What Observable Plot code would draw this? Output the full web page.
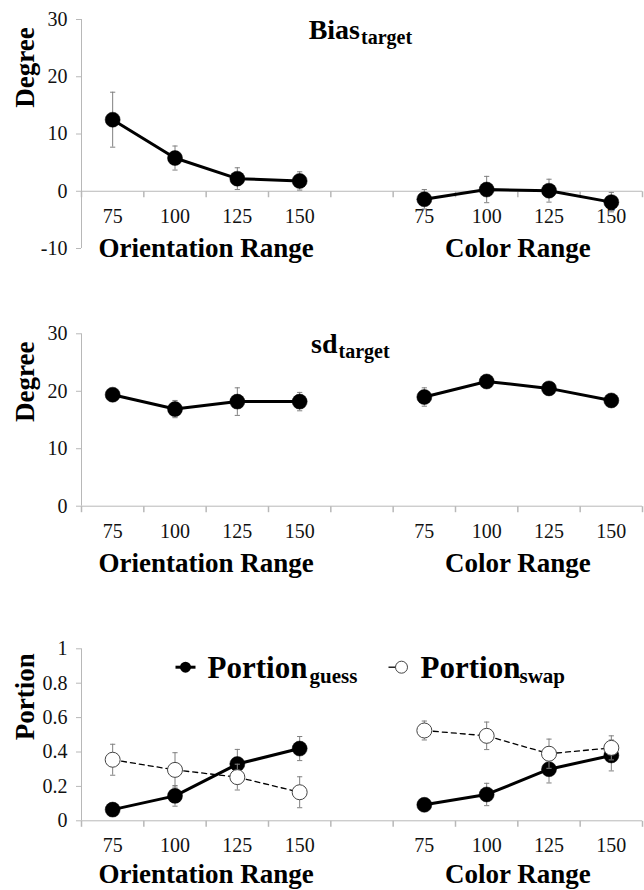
<!DOCTYPE html>
<html><head><meta charset="utf-8">
<script src="https://cdn.jsdelivr.net/npm/d3@7"></script>
<script src="https://cdn.jsdelivr.net/npm/@observablehq/plot@0.6"></script>
<style>body{margin:0;background:#fff} #chart svg{display:block;font-family:"Liberation Serif","Times New Roman",Times,serif}</style>
</head><body><div id="chart"></div>
<script>
// ---- data ----
const rangeLabels = ["75", "100", "125", "150"];
const groupLabels = ["Orientation Range", "Color Range"];

const biasOri = [12.5, 5.8, 2.2, 1.8];
const biasOriErr = [4.8, 2.1, 1.9, 1.6];
const biasCol = [-1.4, 0.3, 0.1, -1.9];
const biasColErr = [1.7, 2.3, 2.0, 1.7];

const sdOri = [19.4, 16.9, 18.2, 18.2];
const sdOriErr = [0.8, 1.5, 2.4, 1.6];
const sdCol = [19.0, 21.7, 20.5, 18.4];
const sdColErr = [1.6, 0.6, 0.5, 0.6];

const guessOri = [0.065, 0.145, 0.33, 0.42];
const guessOriErr = [0.02, 0.06, 0.085, 0.07];
const guessCol = [0.093, 0.153, 0.30, 0.38];
const guessColErr = [0.02, 0.065, 0.08, 0.09];

const swapOri = [0.355, 0.296, 0.254, 0.166];
const swapOriErr = [0.09, 0.1, 0.075, 0.09];
const swapCol = [0.525, 0.494, 0.39, 0.424];
const swapColErr = [0.055, 0.08, 0.085, 0.07];

const biasTicks = [-10, 0, 10, 20, 30];
const sdTicks = [0, 10, 20, 30];
const portionTicks = [0, 0.2, 0.4, 0.6, 0.8, 1];

// ---- helpers ----
const FONT = '"Liberation Serif", "Times New Roman", Times, serif';
const AXIS = "#b8b8b8";
const ERR = "#808080";
const hline = {draw(ctx, size) { const r = Math.sqrt(size / Math.PI); ctx.moveTo(-r, 0); ctx.lineTo(r, 0); }};
const vtick = {draw(ctx, size) { const r = Math.sqrt(size / Math.PI); ctx.moveTo(0, 0); ctx.lineTo(0, r); }};

function rows(valsO, errO, valsC, errC) {
  const out = [];
  [[valsO, errO], [valsC, errC]].forEach(([v, e], g) => {
    v.forEach((val, i) => out.push({x: g * 5 + i, v: val, e: e[i], g, label: rangeLabels[i]}));
  });
  return out;
}

const slotEdges = d3.range(10).map(i => i - 0.5);
const groupCenters = groupLabels.map((name, g) => ({name, x: g * 5 + 1.5}));

function seriesMarks(data, open) {
  return [
    Plot.ruleX(data, {x: "x", y1: d => d.v - d.e, y2: d => d.v + d.e, stroke: ERR, strokeWidth: 1}),
    Plot.dot(data, {x: "x", y: d => d.v + d.e, symbol: hline, r: 2.6, stroke: ERR, fill: "none", strokeWidth: 1}),
    Plot.dot(data, {x: "x", y: d => d.v - d.e, symbol: hline, r: 2.6, stroke: ERR, fill: "none", strokeWidth: 1}),
    Plot.line(data, {x: "x", y: "v", z: "g", stroke: "#000",
      strokeWidth: open ? 1.3 : 3, strokeDasharray: open ? "5,4" : null}),
    Plot.dot(data, {x: "x", y: "v", r: 7.5, fill: open ? "#fff" : "#000",
      stroke: open ? "#444" : "#000", strokeWidth: open ? 1 : 0.5})
  ];
}

function panel({height, marginTop, marginBottom, yDomain, yTicks, yLabel, title, sub, titleDx, series, groupDy = 57, extra = []}) {
  const labelRows = rows(rangeLabels, rangeLabels, rangeLabels, rangeLabels);
  return Plot.plot({
    width: 644, height, marginTop, marginBottom, marginLeft: 81, marginRight: 2,
    style: {fontFamily: FONT, color: "#000", background: "#fff"},
    x: {type: "linear", domain: [-0.5, 8.5], axis: null},
    y: {domain: yDomain},
    marks: [
      Plot.ruleY([0], {stroke: AXIS, strokeWidth: 1}),
      Plot.ruleX([-0.5], {stroke: AXIS, strokeWidth: 1}),
      Plot.axisY({ticks: yTicks, tickSize: 5, tickPadding: 9, stroke: AXIS, color: "#111",
        fontSize: 20, fontFamily: FONT, label: null, tickFormat: d => String(d)}),
      Plot.dot(slotEdges, {x: d => d, y: 0, symbol: vtick, r: 6, stroke: AXIS, fill: "none"}),
      Plot.text(labelRows, {x: "x", y: 0, text: "label", dy: 25, fontSize: 20, fontFamily: FONT, fill: "#111"}),
      Plot.text(groupCenters, {x: "x", y: 0, text: "name", dy: groupDy, fontSize: 27, fontFamily: FONT, fontWeight: "bold"}),
      Plot.text([yLabel], {text: d => d, frameAnchor: "top-left", dx: -56, dy: 48, rotate: -90,
        textAnchor: "middle", lineAnchor: "middle", fontSize: 27, fontFamily: FONT, fontWeight: "bold"}),
      ...(title ? [
        Plot.text([title], {text: d => d, frameAnchor: "top", dx: titleDx, dy: 19, textAnchor: "end",
          lineAnchor: "bottom", fontSize: 28, fontFamily: FONT, fontWeight: "bold"}),
        Plot.text([sub], {text: d => d, frameAnchor: "top", dx: titleDx + 1, dy: 24, textAnchor: "start",
          lineAnchor: "bottom", fontSize: 20, fontFamily: FONT, fontWeight: "bold"})
      ] : []),
      ...extra,
      ...series.flatMap(s => seriesMarks(s.data, s.open))
    ]
  });
}

const chart = document.getElementById("chart");

chart.append(panel({
  height: 300, marginTop: 19, marginBottom: 52, yDomain: [-10, 30], yTicks: biasTicks,
  yLabel: "Degree", title: "Bias", sub: "target", titleDx: -2,
  series: [{data: rows(biasOri, biasOriErr, biasCol, biasColErr), open: false}]
}));

chart.append(panel({
  height: 300, marginTop: 33.3, marginBottom: 94.3, yDomain: [0, 30], yTicks: sdTicks,
  yLabel: "Degree", title: "sd", sub: "target", titleDx: -24.5,
  series: [{data: rows(sdOri, sdOriErr, sdCol, sdColErr), open: false}]
}));

// legend entries
const legendItems = [
  {name: "Portion", sub: "guess", open: false},
  {name: "Portion", sub: "swap", open: true}
];
const LT = {frameAnchor: "top-left", textAnchor: "start", lineAnchor: "bottom", fontFamily: FONT, fontWeight: "bold"};
const legendMarks = [
  Plot.dot([legendItems[0]], {frameAnchor: "top-left", dx: 104, dy: 18.4, symbol: hline, r: 10, stroke: "#000", strokeWidth: 3, fill: "none"}),
  Plot.dot([legendItems[0]], {frameAnchor: "top-left", dx: 104, dy: 18.4, r: 5.5, fill: "#000"}),
  Plot.text([legendItems[0]], {...LT, dx: 126, dy: 28.7, text: "name", fontSize: 31}),
  Plot.text([legendItems[0]], {...LT, dx: 228, dy: 34, text: "sub", fontSize: 21}),
  Plot.dot([legendItems[1]], {frameAnchor: "top-left", dx: 314, dy: 18.4, symbol: hline, r: 7, stroke: "#000", strokeWidth: 1.3, fill: "none"}),
  Plot.dot([legendItems[1]], {frameAnchor: "top-left", dx: 320, dy: 18.4, r: 6, fill: "#fff", stroke: "#444", strokeWidth: 1}),
  Plot.text([legendItems[1]], {...LT, dx: 339, dy: 28.7, text: "name", fontSize: 31}),
  Plot.text([legendItems[1]], {...LT, dx: 438, dy: 34, text: "sub", fontSize: 21})
];

chart.append(panel({
  height: 290, marginTop: 48.3, marginBottom: 69.7, yDomain: [0, 1], yTicks: portionTicks,
  yLabel: "Portion", groupDy: 54,
  series: [
    {data: rows(guessOri, guessOriErr, guessCol, guessColErr), open: false},
    {data: rows(swapOri, swapOriErr, swapCol, swapColErr), open: true}
  ],
  extra: legendMarks
}));
</script>
</body></html>
